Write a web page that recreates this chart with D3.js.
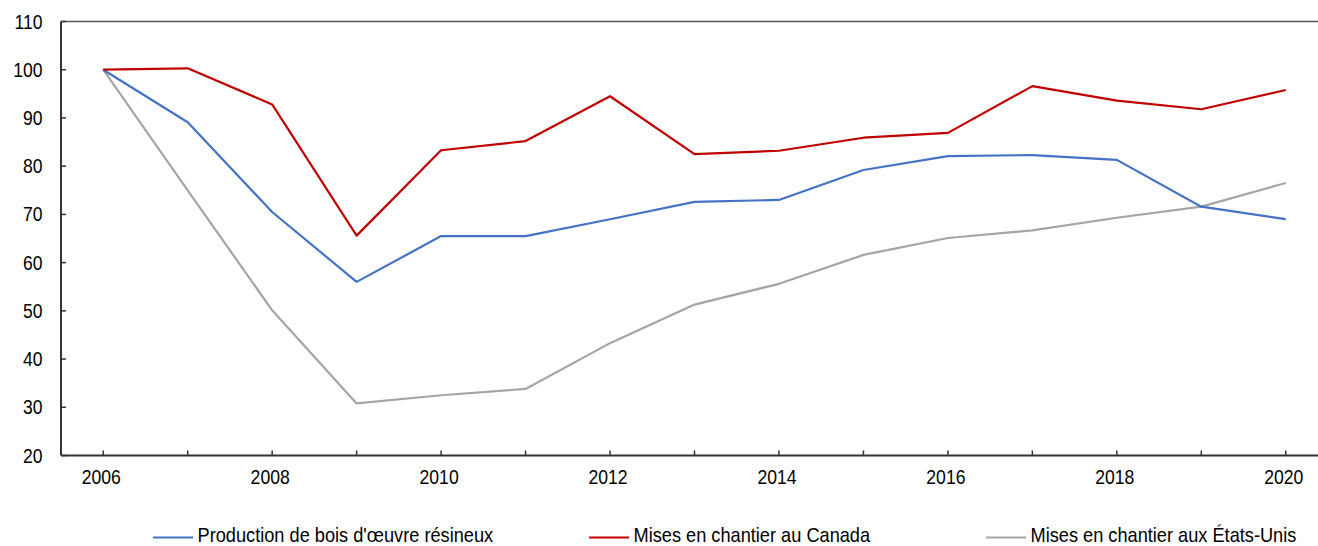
<!DOCTYPE html>
<html>
<head>
<meta charset="utf-8">
<script src="https://d3js.org/d3.v7.min.js"></script>
<style>
  body { margin: 0; padding: 0; background: #fff; }
  text { font-family: "Liberation Sans", Arial, sans-serif; fill: #000; }
</style>
</head>
<body>
<div id="chart"></div>
<script>
// years on the x axis
var years = [2006, 2007, 2008, 2009, 2010, 2011, 2012, 2013, 2014, 2015, 2016, 2017, 2018, 2019, 2020];
var xTickLabels = [2006, 2008, 2010, 2012, 2014, 2016, 2018, 2020];
var yTickLabels = [20, 30, 40, 50, 60, 70, 80, 90, 100, 110];

// series (index 2006 = 100)
var production = [100, 89.1, 70.5, 56.0, 65.5, 65.5, 69.0, 72.6, 73.0, 79.2, 82.1, 82.3, 81.3, 71.6, 69.0];
var canada     = [100, 100.3, 92.8, 65.6, 83.3, 85.2, 94.5, 82.5, 83.2, 85.9, 86.9, 96.6, 93.6, 91.8, 95.8];
var usa        = [100, 75.0, 50.1, 30.8, 32.5, 33.8, 43.3, 51.3, 55.6, 61.6, 65.1, 66.7, 69.3, 71.6, 76.5];

var seriesNames = ["Production de bois d'œuvre résineux", "Mises en chantier au Canada", "Mises en chantier aux États-Unis"];
var seriesColors = ["#4472C4", "#C00000", "#A5A5A5"];
var seriesValues = [production, canada, usa];

var W = 1318, H = 546;
var margin = { left: 61, top: 21.5, right: -10, bottom: 90.5 };

var svg = d3.select("#chart").append("svg")
    .attr("width", W)
    .attr("height", H);

var x = d3.scaleLinear()
    .domain([2005.5, 2020.5])
    .range([margin.left, W - margin.right]);

var y = d3.scaleLinear()
    .domain([20, 110])
    .range([H - margin.bottom, margin.top]);

// squeeze Liberation Sans so it looks like the narrow font of the original
function narrowText(sel, tx, ty, k) {
    return sel.attr("transform", (d, i) => "translate(" + tx(d, i) + "," + ty(d, i) + ") scale(" + k + ",1)");
}

// top border
svg.append("line")
    .attr("x1", margin.left).attr("x2", W)
    .attr("y1", y(110)).attr("y2", y(110))
    .style("stroke", "#555").style("stroke-width", 1.5);

// y axis
svg.append("line")
    .attr("x1", margin.left).attr("x2", margin.left)
    .attr("y1", y(110)).attr("y2", y(20))
    .style("stroke", "#333").style("stroke-width", 2);

svg.selectAll(".ytick")
    .data(yTickLabels)
    .enter().append("line")
    .attr("x1", margin.left).attr("x2", margin.left + 5)
    .attr("y1", d => y(d)).attr("y2", d => y(d))
    .style("stroke", "#333").style("stroke-width", 1.5);

svg.selectAll(".ylabel")
    .data(yTickLabels)
    .enter().append("text")
    .call(narrowText, d => 42.5, d => y(d) + 7, 0.9)
    .attr("text-anchor", "end")
    .style("font-size", "19.5px")
    .text(d => d);

// x axis
svg.append("line")
    .attr("x1", margin.left).attr("x2", W)
    .attr("y1", y(20)).attr("y2", y(20))
    .style("stroke", "#333").style("stroke-width", 2);

svg.selectAll(".xtick")
    .data(years)
    .enter().append("line")
    .attr("x1", d => x(d)).attr("x2", d => x(d))
    .attr("y1", y(20)).attr("y2", y(20) - 5)
    .style("stroke", "#333").style("stroke-width", 1.5);

svg.selectAll(".xlabel")
    .data(xTickLabels)
    .enter().append("text")
    .call(narrowText, d => x(d) - 2, d => 484, 0.88)
    .attr("text-anchor", "middle")
    .style("font-size", "20px")
    .text(d => d);

// lines
var line = d3.line()
    .x((d, i) => x(years[i]))
    .y(d => y(d));

// draw gray first, then blue, then red on top
[2, 0, 1].forEach(function (k) {
    svg.append("path")
        .datum(seriesValues[k])
        .attr("d", line)
        .style("fill", "none")
        .style("stroke", seriesColors[k])
        .style("stroke-width", 2.2)
        .style("stroke-linejoin", "round");
});

// legend
var legendX = [153, 589, 986];
seriesNames.forEach(function (name, k) {
    var g = svg.append("g").attr("transform", "translate(" + legendX[k] + ",0)");
    g.append("line")
        .attr("x1", 0).attr("x2", 40)
        .attr("y1", 537.5).attr("y2", 537.5)
        .style("stroke", seriesColors[k]).style("stroke-width", 2.2);
    g.append("text")
        .attr("transform", "translate(44.5,542) scale(0.91,1)")
        .style("font-size", "20px")
        .text(name);
});
</script>
</body>
</html>
